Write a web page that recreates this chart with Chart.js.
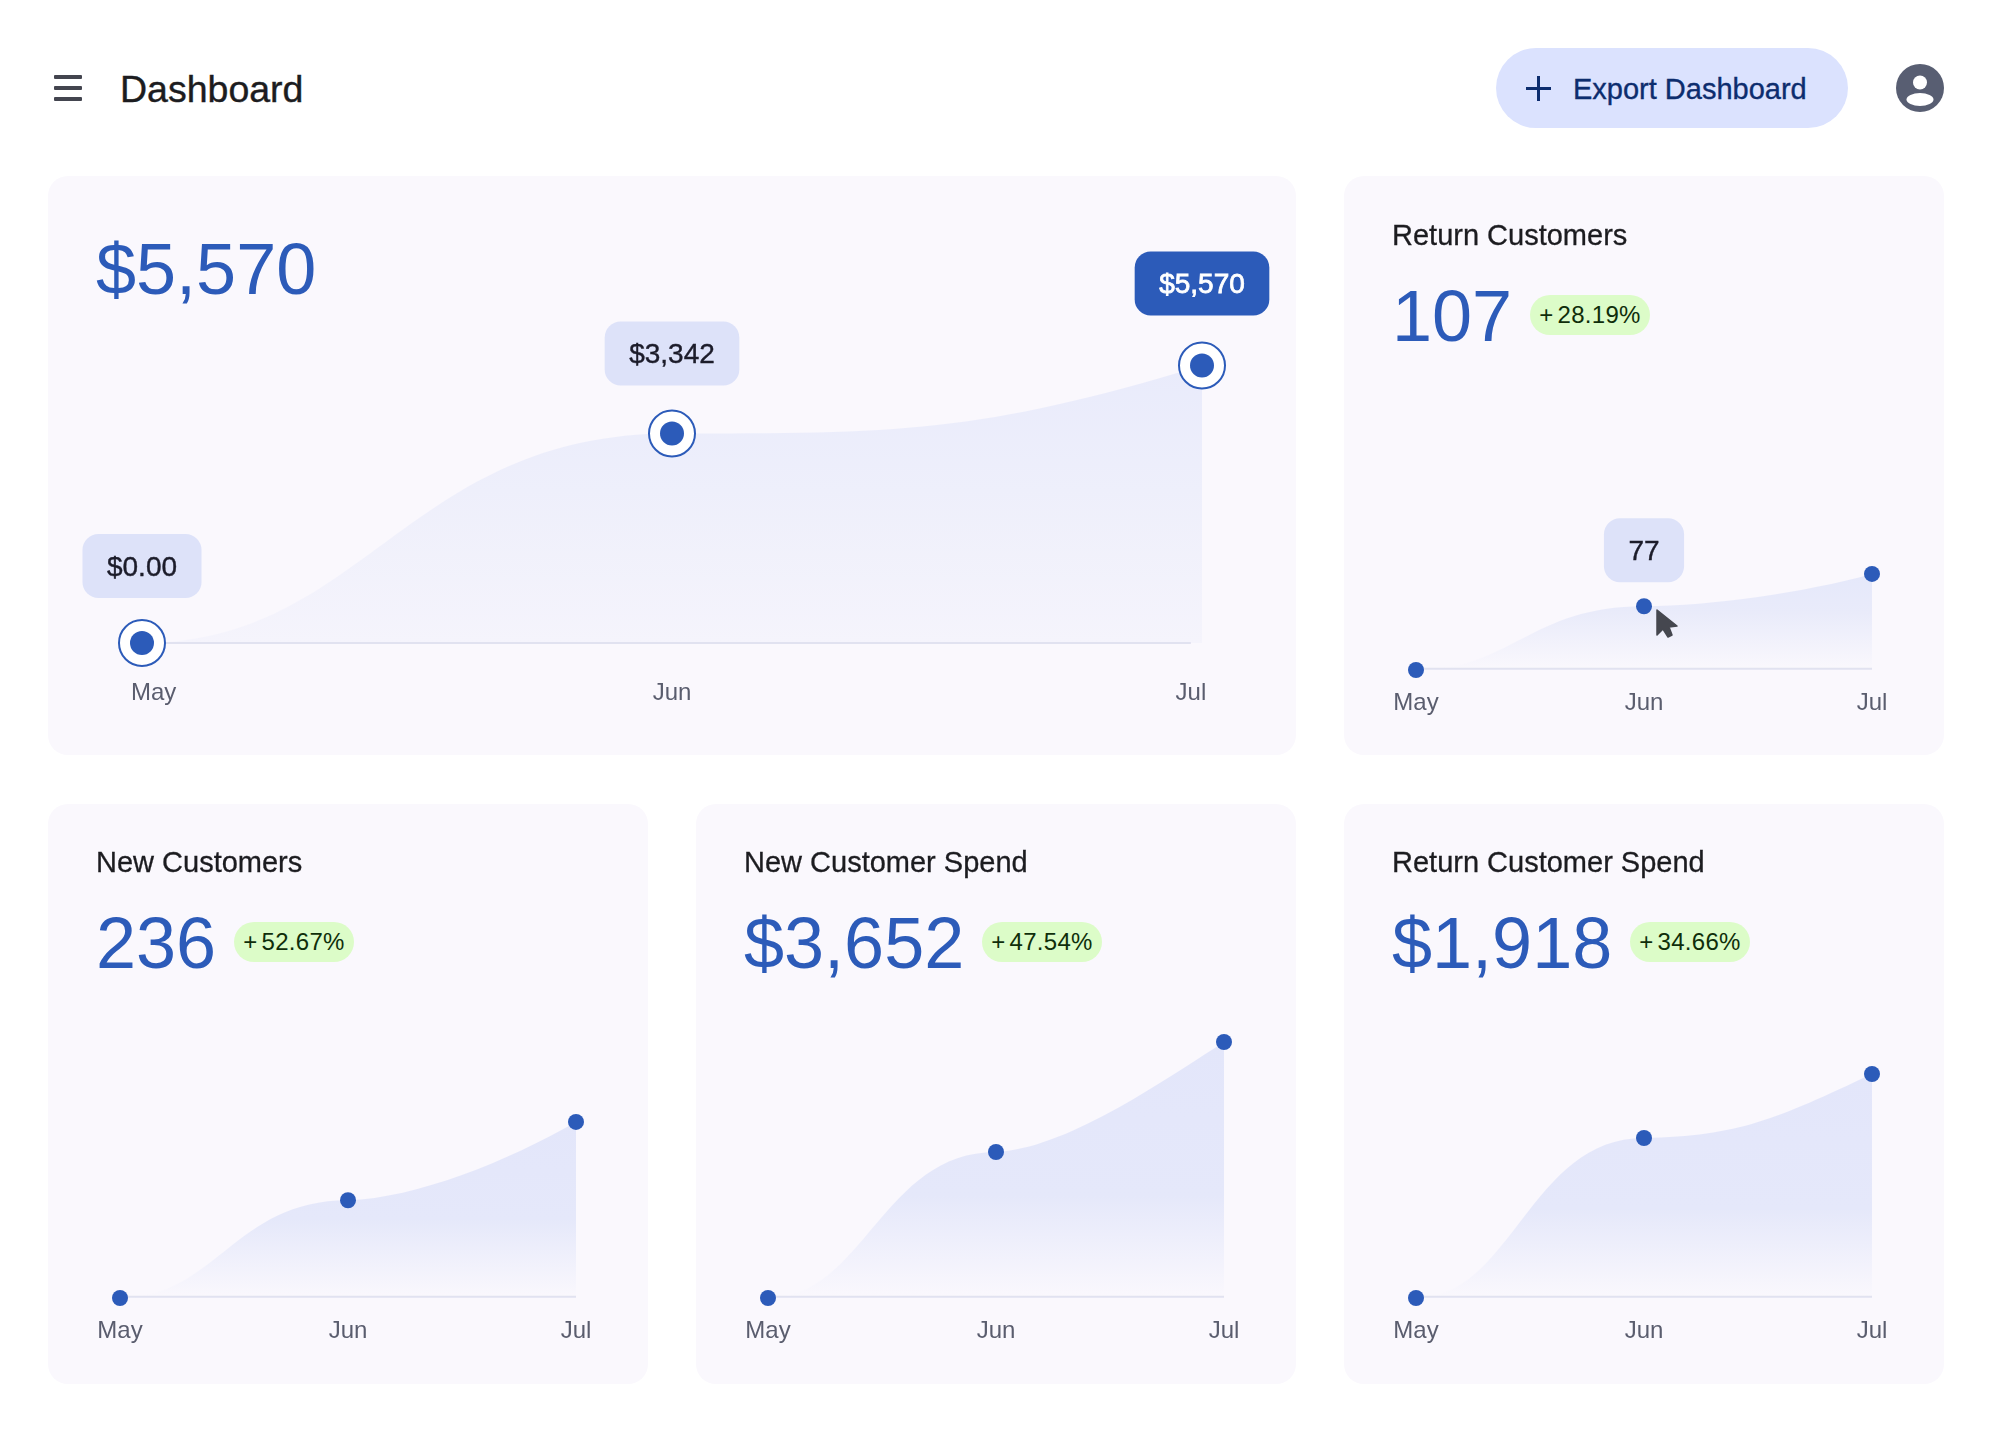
<!DOCTYPE html>
<html>
<head>
<meta charset="utf-8">
<title>Dashboard</title>
<script src="https://cdn.jsdelivr.net/npm/chart.js@4"></script>
<style>
  * { box-sizing: border-box; }
  html, body { margin: 0; background: #fff; }
  body { position: relative; width: 1992px; height: 1432px; overflow: hidden; font-family: "Liberation Sans", sans-serif; color: #1c1c20; }
  .abs { position: absolute; }
  .menu span { position: absolute; left: 0; width: 28px; height: 4px; border-radius: 1px; background: #43454f; }
  .page-title { left: 120px; top: 71px; font-size: 37.5px; line-height: 1; -webkit-text-stroke: 0.4px #1c1c20; }
  .export { left: 1496px; top: 48px; width: 352px; height: 80px; border-radius: 40px; background: #dbe2fe; }
  .export .plus-h { position: absolute; left: 30px; top: 38.5px; width: 25px; height: 3px; background: #0d2d6e; }
  .export .plus-v { position: absolute; left: 41px; top: 28px; width: 3px; height: 25px; background: #0d2d6e; }
  .export .label { position: absolute; left: 77px; top: 27px; font-size: 29px; line-height: 1; color: #0d2d6e; -webkit-text-stroke: 0.35px #0d2d6e; white-space: nowrap; }
  .card { position: absolute; background: #faf8fd; border-radius: 20px; }
  .card canvas { position: absolute; left: 0; top: 0; }
  .card-title { position: absolute; left: 48px; top: 44px; font-size: 29px; line-height: 1; -webkit-text-stroke: 0.3px #1c1c20; white-space: nowrap; }
  .big { position: absolute; left: 48px; top: 103px; font-size: 72px; line-height: 1; color: #2c5bb9; white-space: nowrap; }
  .badge { position: absolute; top: 118px; width: 120px; height: 40px; border-radius: 20px; background: #dcfcc8; color: #0f2e0a; font-size: 24px; letter-spacing: 0.3px; line-height: 40px; text-align: center; white-space: nowrap; }
  .badge i { font-style: normal; margin-right: 4px; }
</style>
</head>
<body>

<div class="abs menu" style="left:54px;top:75px;width:28px;height:26px">
  <span style="top:0"></span><span style="top:11px"></span><span style="top:22px"></span>
</div>
<div class="abs page-title">Dashboard</div>
<div class="abs export">
  <div class="plus-h"></div><div class="plus-v"></div>
  <div class="label">Export Dashboard</div>
</div>
<svg class="abs" style="left:1896px;top:64px" width="48" height="48" viewBox="0 0 48 48">
  <circle cx="24" cy="24" r="24" fill="#585e72"/>
  <circle cx="24" cy="18.5" r="7" fill="#fff"/>
  <ellipse cx="24" cy="35.5" rx="13.5" ry="6.5" fill="#fff"/>
</svg>

<div class="card" style="left:48px;top:176px;width:1248px;height:579px">
  <canvas id="revenueChart"></canvas>
  <div class="big" style="top:57px">$5,570</div>
</div>

<div class="card" style="left:1344px;top:176px;width:600px;height:579px">
  <canvas id="returnCustomersChart"></canvas>
  <div class="card-title" style="top:45px">Return Customers</div>
  <div class="big" style="top:104px">107</div>
  <div class="badge" style="left:186px;top:119px"><i>+</i>28.19%</div>
  <svg class="abs" style="left:312px;top:433px" width="26" height="32" viewBox="0 0 26 32">
    <path d="M1 1 L21 17 L13 18 L16 26 L12 28 L7 20 L1 26 Z" fill="#45474f" stroke="#45474f" stroke-width="1.5" stroke-linejoin="round"/>
  </svg>
</div>

<div class="card" style="left:48px;top:804px;width:600px;height:580px">
  <canvas id="newCustomersChart"></canvas>
  <div class="card-title">New Customers</div>
  <div class="big">236</div>
  <div class="badge" style="left:186px"><i>+</i>52.67%</div>
</div>

<div class="card" style="left:696px;top:804px;width:600px;height:580px">
  <canvas id="newSpendChart"></canvas>
  <div class="card-title">New Customer Spend</div>
  <div class="big">$3,652</div>
  <div class="badge" style="left:286px"><i>+</i>47.54%</div>
</div>

<div class="card" style="left:1344px;top:804px;width:600px;height:580px">
  <canvas id="returnSpendChart"></canvas>
  <div class="card-title">Return Customer Spend</div>
  <div class="big">$1,918</div>
  <div class="badge" style="left:286px"><i>+</i>34.66%</div>
</div>

<script>
// ======== Data ==============================
const months = ['May', 'Jun', 'Jul'];
const monthPositions = [0, 1, 2];

// Heights as drawn: the Jun point of the big chart sits higher than its label says
const revenueValues = [0, 4205, 5570];
const revenueLabels = ['$0.00', '$3,342', '$5,570'];
const returnCustomerValues = [0, 71, 107];
const returnCustomerLabel = '77';
const newCustomerValues = [0, 131, 236];
const newSpendValues = [0, 2083, 3652];
const returnSpendValues = [0, 1370, 1918];

// Big chart pulls its outer month labels and baseline in from the points
const revenueTickPositions = [0.022, 1, 1.979];

const BLUE = '#2c5bb9';
const CARD_BG = '#faf8fd';
const FONT = '"Liberation Sans", sans-serif';

// Curve is flat at May, near flat at Jun, then bends up to Jul
const curvePlugin = {
    id: 'curve',
    afterDatasetsUpdate(chart, args, opts) {
        const idx = chart.data.datasets.findIndex(d => d.isArea);
        const meta = chart.getDatasetMeta(idx);
        meta.dataset.updateControlPoints(chart.chartArea, 'x');
        const [may, jun, jul] = meta.data;
        const gap1 = jun.x - may.x;
        const gap2 = jul.x - jun.x;
        const rise = jun.y - jul.y;
        may.cp2x = may.x + gap1 * 0.42; may.cp2y = may.y;
        jun.cp1x = jun.x - gap1 * 0.5;  jun.cp1y = jun.y;
        jun.cp2x = jun.x + gap2 * opts.reach;
        jun.cp2y = jun.y - rise * opts.startLift;
        jul.cp1x = jul.x - gap2 * opts.reach;
        jul.cp1y = jun.y - rise * opts.endLift;
    }
};

// Value labels above the points
const pillPlugin = {
    id: 'pills',
    afterDatasetsDraw(chart, args, opts) {
        const c = chart.ctx;
        const points = chart.getDatasetMeta(0).data;
        (opts.items || []).forEach(item => {
            const pt = points[item.index];
            c.save();
            c.font = `28px ${FONT}`;
            const w = c.measureText(item.text).width + 49;
            const h = 64;
            const x = pt.x - w / 2;
            const y = pt.y - item.gap - h;
            c.beginPath();
            c.roundRect(x, y, w, h, 16);
            c.fillStyle = item.fill;
            c.fill();
            c.fillStyle = item.color;
            c.strokeStyle = item.color;
            c.lineWidth = item.strokeWidth || 0.4;
            c.textAlign = 'center';
            c.textBaseline = 'middle';
            c.fillText(item.text, pt.x, y + h / 2 + 2);
            c.strokeText(item.text, pt.x, y + h / 2 + 2);
            c.restore();
        });
    }
};

function makeChart(id, setup) {
    const canvas = document.getElementById(id);
    const box = canvas.parentElement;
    canvas.width = box.clientWidth;
    canvas.height = box.clientHeight;
    canvas.style.width = box.clientWidth + 'px';
    canvas.style.height = box.clientHeight + 'px';

    const points = setup.values.map((v, i) => ({ x: monthPositions[i], y: v }));
    const ticksAt = setup.tickPositions || monthPositions;
    const lineEnd = ticksAt[ticksAt.length - 1];

    const datasets = [
        {
            label: 'Points',
            data: points,
            showLine: false,
            clip: false,
            pointRadius: setup.dotRadius,
            pointBackgroundColor: BLUE,
            pointBorderWidth: 0
        }
    ];
    if (setup.ringRadius) {
        datasets.push({
            label: 'Rings',
            data: points,
            showLine: false,
            clip: false,
            pointRadius: setup.ringRadius,
            pointBackgroundColor: '#ffffff',
            pointBorderColor: BLUE,
            pointBorderWidth: 2
        });
    }
    datasets.push({
        label: 'Baseline',
        data: [{ x: monthPositions[0], y: setup.baselineLevel }, { x: lineEnd, y: setup.baselineLevel }],
        borderColor: '#e1e2f0',
        borderWidth: 2,
        pointRadius: 0,
        clip: false
    });
    datasets.push({
        label: 'Area',
        isArea: true,
        data: points,
        tension: 0.4,
        borderWidth: 0,
        pointRadius: 0,
        fill: 'origin',
        backgroundColor: ctx => {
            const { chart } = ctx;
            if (!chart.chartArea) return setup.topColor;
            const top = chart.scales.y.getPixelForValue(setup.values[2]);
            const g = chart.ctx.createLinearGradient(0, top, 0, chart.chartArea.bottom);
            g.addColorStop(0, setup.topColor);
            g.addColorStop(setup.midStop, setup.midColor);
            g.addColorStop(1, setup.endColor || CARD_BG);
            return g;
        }
    });

    return new Chart(canvas, {
        type: 'line',
        data: { datasets },
        plugins: [curvePlugin, pillPlugin],
        options: {
            responsive: false,
            animation: false,
            events: [],
            layout: { autoPadding: false, padding: { left: setup.left, right: setup.right, top: 0, bottom: 0 } },
            plugins: {
                legend: { display: false },
                tooltip: { enabled: false },
                curve: setup.curve,
                pills: { items: setup.pills || [] }
            },
            scales: {
                x: {
                    type: 'linear',
                    min: 0,
                    max: 2,
                    grid: { display: false, drawTicks: false },
                    border: { display: false },
                    afterBuildTicks: scale => { scale.ticks = ticksAt.map(v => ({ value: v })); },
                    afterFit: scale => { scale.height = setup.axisHeight; },
                    ticks: {
                        autoSkip: false,
                        maxRotation: 0,
                        padding: setup.tickPadding,
                        color: '#5a5d6e',
                        font: { family: FONT, size: 24 },
                        callback: (v, i) => months[i]
                    }
                },
                y: { display: false, min: 0, max: setup.yMax }
            }
        }
    });
}

makeChart('revenueChart', {
    values: revenueValues,
    tickPositions: revenueTickPositions,
    left: 94, right: 94, axisHeight: 112, tickPadding: 36, yMax: 9373, baselineLevel: 0,
    dotRadius: 12, ringRadius: 23,
    topColor: '#e9ebfb', midColor: '#eeeffb', midStop: 0.45, endColor: '#f5f4fc',
    curve: { reach: 0.42, startLift: 0, endLift: 0 },
    pills: [
        { index: 0, text: revenueLabels[0], fill: '#dde2f9', color: '#1c1c2a', gap: 45 },
        { index: 1, text: revenueLabels[1], fill: '#dde2f9', color: '#1c1c2a', gap: 48 },
        { index: 2, text: revenueLabels[2], fill: BLUE, color: '#ffffff', gap: 50, strokeWidth: 0.8 }
    ]
});

makeChart('returnCustomersChart', {
    values: returnCustomerValues,
    left: 72, right: 72, axisHeight: 85, tickPadding: 19, yMax: 550, baselineLevel: 1.4,
    dotRadius: 8,
    topColor: '#e5e8fa', midColor: '#e9ebfa', midStop: 0.4,
    curve: { reach: 0.3, startLift: 0.02, endLift: 0.42 },
    pills: [{ index: 1, text: returnCustomerLabel, fill: '#dde2f9', color: '#1c1c2a', gap: 24 }]
});

makeChart('newCustomersChart', {
    values: newCustomerValues,
    left: 72, right: 72, axisHeight: 86, tickPadding: 19, yMax: 662, baselineLevel: 1.7,
    dotRadius: 8,
    topColor: '#e3e6fa', midColor: '#e5e8fa', midStop: 0.55,
    curve: { reach: 0.3, startLift: 0.03, endLift: 0.5 }
});

makeChart('newSpendChart', {
    values: newSpendValues,
    left: 72, right: 72, axisHeight: 86, tickPadding: 19, yMax: 7047, baselineLevel: 18,
    dotRadius: 8,
    topColor: '#e3e6fa', midColor: '#e5e8fa', midStop: 0.6,
    curve: { reach: 0.3, startLift: 0.03, endLift: 0.6 }
});

makeChart('returnSpendChart', {
    values: returnSpendValues,
    left: 72, right: 72, axisHeight: 86, tickPadding: 19, yMax: 4230, baselineLevel: 11,
    dotRadius: 8,
    topColor: '#e3e6fa', midColor: '#e5e8fa', midStop: 0.6,
    curve: { reach: 0.42, startLift: 0.03, endLift: 0.3 }
});
</script>
</body>
</html>
